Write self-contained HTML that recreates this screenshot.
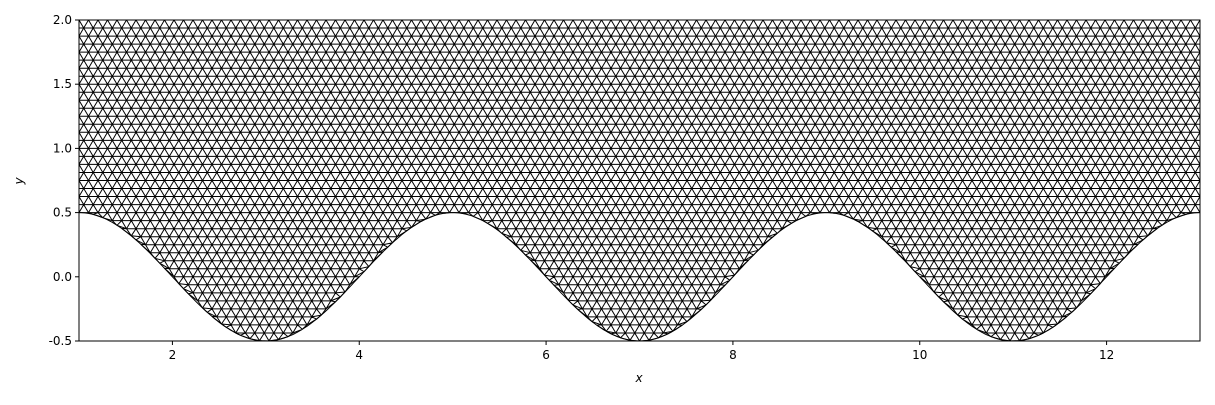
<!DOCTYPE html>
<html><head><meta charset="utf-8"><style>
body{margin:0;background:#fff;font-family:"Liberation Sans","DejaVu Sans",sans-serif;}
svg text{font-family:"DejaVu Sans","Liberation Sans",sans-serif;font-size:12px;fill:#000}
</style></head><body>
<svg id="chart" width="1215" height="400" viewBox="0 0 1215 400">
<defs><clipPath id="pc"><rect x="79" y="20" width="1121" height="321"/></clipPath></defs>
<g id="mesh" clip-path="url(#pc)"></g>
<rect x="79" y="20" width="1121" height="321" fill="none" stroke="#000" stroke-width="1"/>
<g id="axes"></g>
<text x="639" y="382" text-anchor="middle" font-style="italic">x</text>
<text transform="translate(23,181) rotate(-90)" text-anchor="middle" font-style="italic">y</text>
</svg>
<script>
const xTicks=[2,4,6,8,10,12];
const yTicks=[-0.5,0.0,0.5,1.0,1.5,2.0];
const xDomain=[1,13];
const yDomain=[-0.5,2];
const amplitude=0.5, period=4;
const L=79,R=1200,T=20,B=341;
const sx=v=>L+(v-xDomain[0])/(xDomain[1]-xDomain[0])*(R-L);
const sy=v=>B-(v-yDomain[0])/(yDomain[1]-yDomain[0])*(B-T);
const bottom=x=>amplitude*Math.cos(2*Math.PI*(x-1)/period);
const ns="http://www.w3.org/2000/svg";
const axes=document.getElementById('axes');
xTicks.forEach(t=>{
 const l=document.createElementNS(ns,'line');
 
 
 l.setAttribute('x1',sx(t));l.setAttribute('x2',sx(t));l.setAttribute('y1',B);l.setAttribute('y2',B+4);l.setAttribute('stroke','#000');
 axes.appendChild(l);
 const tx=document.createElementNS(ns,'text');
 
 
 tx.setAttribute('x',sx(t));tx.setAttribute('y',B+18);tx.setAttribute('text-anchor','middle');tx.setAttribute('font-size','11');
 tx.textContent=t;axes.appendChild(tx);
});
yTicks.forEach(t=>{
 const l=document.createElementNS(ns,'line');
 
 
 l.setAttribute('x1',L-4);l.setAttribute('x2',L);l.setAttribute('y1',sy(t));l.setAttribute('y2',sy(t));l.setAttribute('stroke','#000');
 axes.appendChild(l);
 const tx=document.createElementNS(ns,'text');
 
 
 tx.setAttribute('x',L-7);tx.setAttribute('y',sy(t)+4);tx.setAttribute('text-anchor','end');tx.setAttribute('font-size','11');
 tx.textContent=t.toFixed(1);axes.appendChild(tx);
});
const nx=118, ny=40;
const dx=(xDomain[1]-xDomain[0])/nx, dy=(yDomain[1]-yDomain[0])/ny;
const P=[];
for(let j=0;j<=ny;j++){
 const row=[];const y=2-j*dy;const off=(j%2)?dx/2:0;
 for(let i=0;i<=nx+1;i++){
  let x=xDomain[0]+i*dx-off;
  x=Math.max(xDomain[0],Math.min(xDomain[1],x));
  const b=bottom(x);
  row.push({x:x,y:y,b:b,below:y<b});
 }
 P.push(row);
}
let d='';
const seg=(a,b)=>{const ya=Math.max(a.y,a.b),yb=Math.max(b.y,b.b);
 d+='M'+sx(a.x).toFixed(1)+' '+sy(ya).toFixed(1)+'L'+sx(b.x).toFixed(1)+' '+sy(yb).toFixed(1);};
const tri=(a,b,c)=>{
 const cy=(a.y+b.y+c.y)/3, cx=(a.x+b.x+c.x)/3;
 if(cy<bottom(cx)-dy*0.3)return;
 if(a.below&&b.below&&c.below)return;
 seg(a,b);seg(b,c);seg(c,a);
};
for(let j=0;j<ny;j++){
 for(let i=0;i<=nx;i++){
  const a=P[j][i],b=P[j][i+1];
  if(j%2===0){const c=P[j+1][i+1];tri(a,b,c);if(i<nx){tri(b,P[j+1][i+2],c);} }
  else{const c=P[j+1][i];tri(a,b,c);tri(b,P[j+1][i+1],c);}
 }
}
let bd='';
for(let k=0;k<=600;k++){const x=1+12*k/600;bd+=(k?'L':'M')+sx(x).toFixed(1)+' '+sy(bottom(x)).toFixed(1);}
const mesh=document.getElementById('mesh');
const p=document.createElementNS(ns,'path');


p.setAttribute('d',d);p.setAttribute('stroke','#000');p.setAttribute('stroke-width','1');p.setAttribute('fill','none');
mesh.appendChild(p);
const bp=document.createElementNS(ns,'path');


bp.setAttribute('d',bd);bp.setAttribute('stroke','#000');bp.setAttribute('stroke-width','1');bp.setAttribute('fill','none');
mesh.appendChild(bp);
</script>
</body></html>
